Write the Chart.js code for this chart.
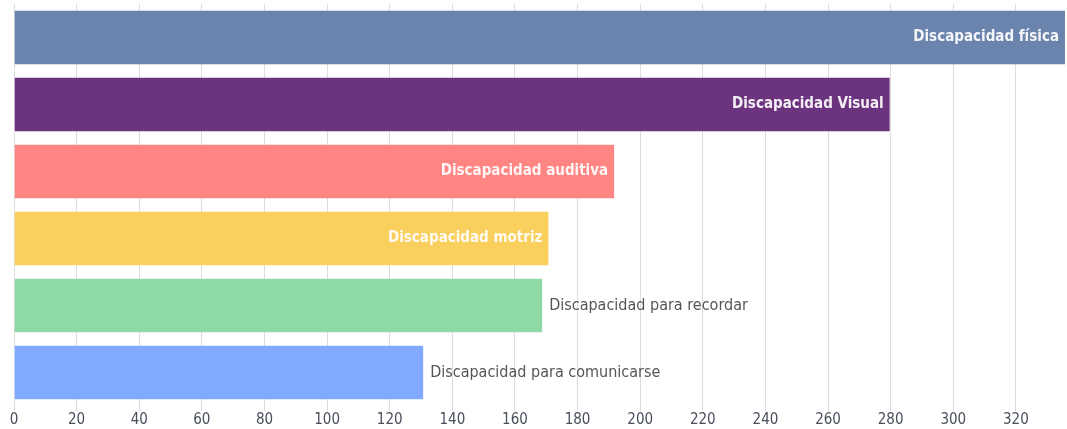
<!DOCTYPE html>
<html>
<head>
<meta charset="utf-8">
<script src="https://cdn.jsdelivr.net/npm/chart.js@4"></script>
<style>
  html, body { margin: 0; padding: 0; background: #fff; }
  #wrap { width: 1067px; height: 429px; }
</style>
</head>
<body>
<div id="wrap"><canvas id="chart"></canvas></div>
<script>
const categories = [
  'Discapacidad física',
  'Discapacidad Visual',
  'Discapacidad auditiva',
  'Discapacidad motriz',
  'Discapacidad para recordar',
  'Discapacidad para comunicarse'
];
const values = [336, 280, 192, 171, 169, 131];
const barColors = ['#6a84ad', '#6c337f', '#ff8583', '#f9cf5d', '#8fd9a6', '#81aaff'];
const labelInside = [true, true, true, true, false, false];
const tickStep = 20;

const FONT = '"Liberation Sans Narrow", "DejaVu Sans Condensed", "Roboto", sans-serif';

// etiquetas al final de cada barra
const barLabels = {
  id: 'barLabels',
  afterDatasetsDraw(chart) {
    const ctx = chart.ctx;
    const meta = chart.getDatasetMeta(0);
    ctx.save();
    ctx.textBaseline = 'middle';
    meta.data.forEach((bar, i) => {
      if (labelInside[i]) {
        ctx.font = 'bold 15px ' + FONT;
        ctx.fillStyle = 'rgba(255,255,255,0.92)';
        ctx.textAlign = 'right';
        ctx.fillText(categories[i], bar.x - 7, bar.y);
      } else {
        ctx.font = '16px ' + FONT;
        ctx.fillStyle = '#555';
        ctx.textAlign = 'left';
        ctx.fillText(categories[i], bar.x + 6, bar.y);
      }
    });
    ctx.restore();
  }
};

new Chart(document.getElementById('chart'), {
  type: 'bar',
  data: {
    labels: categories,
    datasets: [{
      data: values,
      backgroundColor: barColors,
      borderColor: 'rgba(255,255,255,0.25)',
      borderWidth: 1,
      barPercentage: 0.83,
      categoryPercentage: 1
    }]
  },
  options: {
    indexAxis: 'y',
    responsive: true,
    maintainAspectRatio: false,
    animation: false,
    layout: { padding: { left: 14, top: 4, right: 1, bottom: 0 } },
    plugins: { legend: { display: false }, tooltip: { enabled: false } },
    scales: {
      x: {
        min: 0,
        max: Math.max(...values),
        afterBuildTicks: axis => { axis.ticks = axis.ticks.filter(t => t.value % tickStep === 0); },
        ticks: { stepSize: tickStep, color: '#4a4f5c', font: { family: FONT, size: 15 }, padding: 0 },
        grid: { color: '#dcdcdc', lineWidth: 1, tickLength: 5, drawTicks: true },
        border: { display: false }
      },
      y: { display: false, grid: { display: false } }
    }
  },
  plugins: [barLabels]
});
</script>
</body>
</html>
